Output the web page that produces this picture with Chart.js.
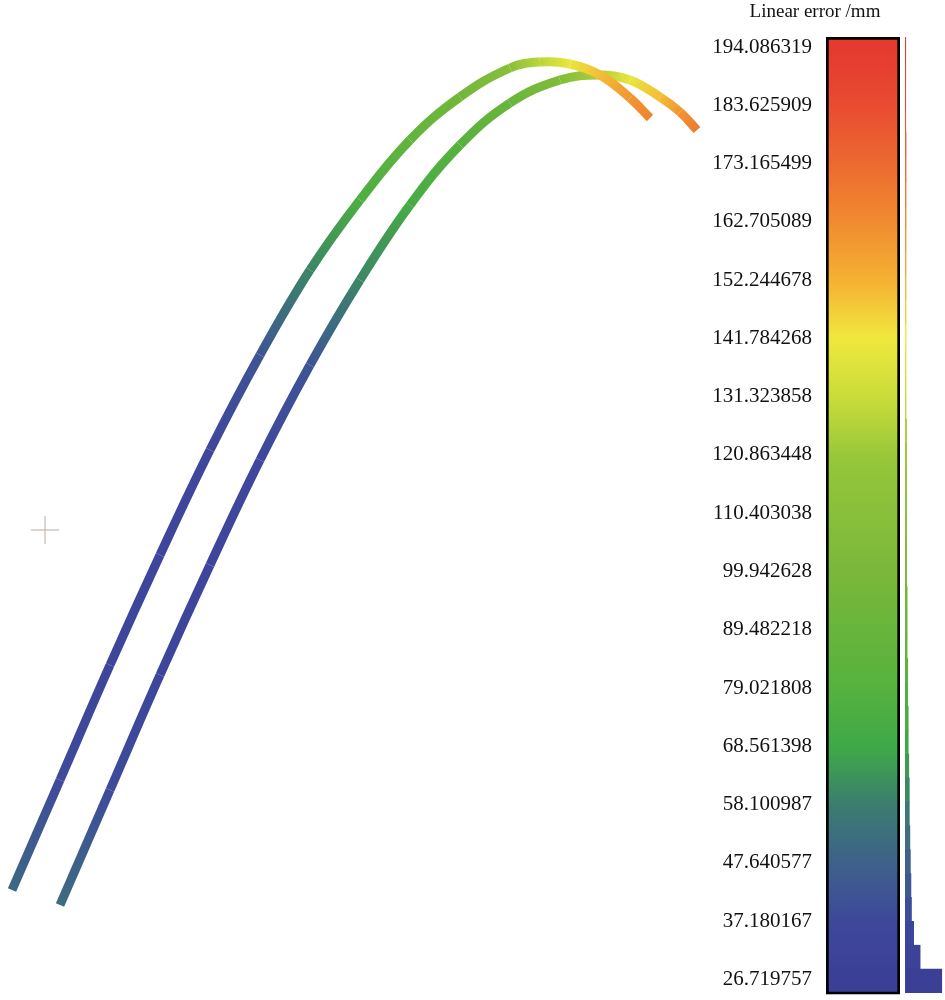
<!DOCTYPE html>
<html><head><meta charset="utf-8">
<script src="https://cdn.jsdelivr.net/npm/chart.js@4"></script>
<style>
body{margin:0;background:#fff;width:945px;height:1000px;position:relative;overflow:hidden;font-family:"Liberation Serif",serif}
canvas{position:absolute}
#title{position:absolute;left:700px;width:230px;top:0px;text-align:center;font-size:19px;color:#111}
</style></head><body>
<canvas id="c1" width="945" height="1000" style="left:0;top:0;width:945px;height:1000px"></canvas>
<canvas id="c2" width="215" height="1013" style="left:690px;top:0;width:215px;height:1013px"></canvas>
<canvas id="c3" width="40" height="1000" style="left:905px;top:0;width:40px;height:1000px"></canvas>
<div id="title">Linear error /mm</div>
<script>
const curve1X=[12,60,110,160,210,260,310,360,410,460,510,540,570,600,630,650];
const curve1Y=[890,780,665,555,450,355,270,200,140,97,68,62,64,75,98,118];
const curve1E=[50,38,35,35,36,42,60,75,85,95,110,128,140,150,160,165];
const curve2X=[60,110,160,210,260,310,360,410,460,510,560,600,630,660,680,697];
const curve2Y=[905,790,675,565,460,365,280,205,145,103,80,75,80,97,112,130];
const curve2E=[52,38,35,35,36,42,60,72,80,90,105,125,140,150,160,168];
const tickLabels=["194.086319","183.625909","173.165499","162.705089","152.244678","141.784268","131.323858","120.863448","110.403038","99.942628","89.482218","79.021808","68.561398","58.100987","47.640577","37.180167","26.719757"];
const tickValues=tickLabels.map(Number);
const histCounts=[0.7,0.7,0.7,0.7,1,1,1,1,1,1,1,1,1,1,1,1,1.5,1.5,1.5,1.5,1.5,1.5,1.5,2,2,2,2.5,2.5,3,3,3.5,4,4,4.5,5,5.5,6,8,14,34];
const yMin=24.02,yMax=195.88;
const stops=[[26.7,[59,63,150]],[37,[62,72,155]],[47,[62,95,140]],[58,[60,125,110]],[68,[62,168,72]],[80,[88,178,62]],[100,[122,184,58]],[120,[150,198,58]],[131,[200,220,58]],[141.8,[240,232,62]],[152,[245,178,52]],[163,[240,138,48]],[173,[236,106,48]],[184,[232,74,50]],[194.1,[228,58,48]]];
function cmap(v){if(v<=stops[0][0])return `rgb(${stops[0][1]})`;for(let i=1;i<stops.length;i++){if(v<=stops[i][0]){const a=stops[i-1],b=stops[i],t=(v-a[0])/(b[0]-a[0]);const c=a[1].map((x,k)=>Math.round(x+(b[1][k]-x)*t));return `rgb(${c})`;}}return `rgb(${stops[stops.length-1][1]})`;}
function mk(xs,ys,es){return{data:xs.map((x,i)=>({x,y:ys[i]})),showLine:true,pointRadius:0,borderWidth:9,borderCapStyle:'butt',tension:0.4,
 segment:{borderColor:c=>{const g=c.chart.ctx.createLinearGradient(c.p0.x,c.p0.y,c.p1.x,c.p1.y);g.addColorStop(0,cmap(es[c.p0DataIndex]));g.addColorStop(1,cmap(es[c.p1DataIndex]));return g;}}};}
new Chart(document.getElementById('c1'),{type:'scatter',data:{datasets:[mk(curve1X,curve1Y,curve1E),mk(curve2X,curve2Y,curve2E),
 {data:[{x:45,y:530}],pointStyle:'cross',pointRadius:14,borderColor:'#bbaaa0',borderWidth:1}]},
 options:{responsive:false,devicePixelRatio:1,animation:false,layout:{padding:0,autoPadding:false},plugins:{legend:{display:false},tooltip:{enabled:false}},
 scales:{x:{type:'linear',min:0,max:945,display:false},y:{type:'linear',min:0,max:1000,reverse:true,display:false}}}});
const c2=document.getElementById('c2');
new Chart(c2,{type:'bar',data:{labels:['e'],datasets:[{data:[[yMin,yMax]],borderColor:'#000',borderWidth:3,borderSkipped:false,barPercentage:1,categoryPercentage:1,
 backgroundColor:ctx=>{const ch=ctx.chart,a=ch.chartArea;if(!a)return'#888';const s=ch.scales.y;const g=ch.ctx.createLinearGradient(0,s.getPixelForValue(yMin),0,s.getPixelForValue(yMax));for(let v=yMin;v<=yMax;v+=2){g.addColorStop((v-yMin)/(yMax-yMin),cmap(v));}return g;}}]},
 options:{responsive:false,devicePixelRatio:1,animation:false,layout:{padding:{top:37,bottom:7,right:5,left:0}},plugins:{legend:{display:false},tooltip:{enabled:false}},
 scales:{x:{display:false},y:{min:yMin,max:yMax,grid:{display:false},border:{display:false},
 afterBuildTicks:s=>{s.ticks=tickValues.map(v=>({value:v}));},afterFit:s=>{s.width=136;},
 ticks:{color:'#111',font:{family:'Liberation Serif',size:21},padding:6,callback:(v,i)=>tickLabels[i]}}}}});
const histLabels=histCounts.map((_,i)=>(yMax-(i+0.5)*(yMax-yMin)/histCounts.length).toFixed(2));
new Chart(document.getElementById('c3'),{type:'bar',data:{labels:histLabels,datasets:[{data:histCounts,barPercentage:1,categoryPercentage:1,
 backgroundColor:histLabels.map(l=>cmap(Number(l)))}]},
 options:{indexAxis:'y',responsive:false,devicePixelRatio:1,animation:false,layout:{padding:{top:37,bottom:7,left:0,right:0}},plugins:{legend:{display:false},tooltip:{enabled:false}},
 scales:{x:{display:false,min:0,max:37},y:{display:false}}}});
</script></body></html>
